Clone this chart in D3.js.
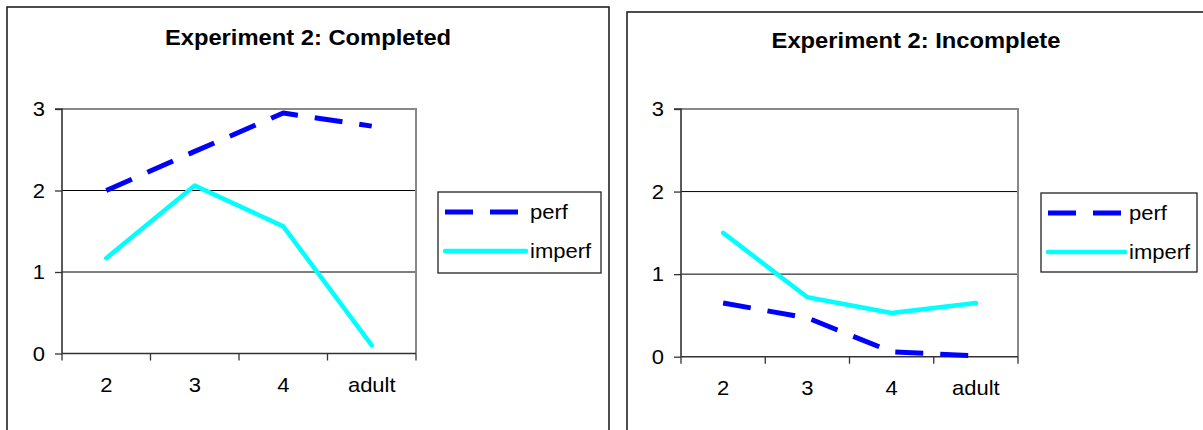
<!DOCTYPE html>
<html>
<head>
<meta charset="utf-8">
<script src="https://cdn.jsdelivr.net/npm/d3@7/dist/d3.min.js"></script>
<style>
  html, body { margin: 0; padding: 0; background: #fff; }
  svg { display: block; }
  text { font-family: "Liberation Sans", Arial, sans-serif; fill: #000; }
</style>
</head>
<body>
<svg id="chart" width="1203" height="430"></svg>
<script>
// Age groups along the x axis and the value ticks on the y axis
const ages = ["2", "3", "4", "adult"];
const yTicks = [0, 1, 2, 3];
const seriesNames = ["perf", "imperf"];
const titles = ["Experiment 2: Completed", "Experiment 2: Incomplete"];

// Mean scores per age group
const completedPerf = [2.0, 2.48, 2.95, 2.79];
const completedImperf = [1.17, 2.06, 1.56, 0.10];
const incompletePerf = [0.65, 0.47, 0.06, 0.01];
const incompleteImperf = [1.50, 0.72, 0.53, 0.65];

const seriesStyle = {
  perf:   { color: "#0000ff", width: 5,   dash: "28,17", cap: "butt" },
  imperf: { color: "#00ffff", width: 4.5, dash: null,    cap: "round" }
};

const svg = d3.select("#chart");
const TEXT_SX = 1.1; // text in these charts is set slightly wide

function label(g, x, y, str, opts = {}) {
  return g.append("text")
    .attr("transform", `translate(${x},${y}) scale(${opts.sx || TEXT_SX},1)`)
    .attr("text-anchor", opts.anchor || "middle")
    .attr("font-size", opts.size || 20)
    .attr("font-weight", opts.weight || "normal")
    .attr("dy", opts.dy || 0)
    .text(str);
}

function drawPanel(cfg) {
  const g = svg.append("g");

  // outer chart frame
  g.append("rect")
    .attr("x", cfg.frame.x).attr("y", cfg.frame.y)
    .attr("width", cfg.frame.w).attr("height", cfg.frame.h)
    .attr("fill", "#fff").attr("stroke", "#222").attr("stroke-width", 1.6);

  // title
  label(g, cfg.frame.x + cfg.frame.w / 2, cfg.titleY, cfg.title,
        { size: 22, weight: "bold", sx: 1.08 });

  const p = cfg.plot;
  const x = d3.scaleBand().domain(ages).range([p.left, p.right]);
  const y = d3.scaleLinear().domain([0, 3]).range([p.bottom, p.top]);

  // gridlines
  g.append("g").selectAll("line").data(yTicks.filter(t => t > 0 && t < 3)).join("line")
    .attr("x1", p.left).attr("x2", p.right)
    .attr("y1", d => y(d)).attr("y2", d => y(d))
    .attr("stroke", "#000").attr("stroke-width", 1);

  // plot area border (top and right)
  g.append("path")
    .attr("d", `M${p.left},${y(3)}H${p.right}V${p.bottom}`)
    .attr("fill", "none").attr("stroke", "#888").attr("stroke-width", 2);

  // y axis
  const yAxis = g.append("g").attr("transform", `translate(${p.left},0)`)
    .call(d3.axisLeft(y).tickValues(yTicks).tickSize(7).tickFormat(d3.format("d")));
  yAxis.select(".domain").attr("stroke", "#333").attr("stroke-width", 1.6)
    .attr("d", `M-7,${y(3)}H0V${p.bottom}`);
  yAxis.selectAll(".tick line").attr("stroke", "#333").attr("stroke-width", 1.3);
  yAxis.selectAll(".tick text").remove();
  yTicks.forEach(t => label(g, p.left - 17, y(t), String(t), { anchor: "end", dy: "0.36em" }));

  // x axis with ticks on category boundaries
  const xAxis = g.append("g").attr("transform", `translate(0,${p.bottom})`);
  xAxis.append("line").attr("x1", p.left).attr("x2", p.right)
    .attr("stroke", "#333").attr("stroke-width", 1.6);
  const bounds = ages.map(a => x(a)).concat([p.right]);
  xAxis.selectAll("line.tk").data(bounds).join("line").attr("class", "tk")
    .attr("x1", d => d).attr("x2", d => d).attr("y1", 0).attr("y2", 7)
    .attr("stroke", "#333").attr("stroke-width", 1.3);
  ages.forEach(a => label(g, x(a) + x.bandwidth() / 2, cfg.xLabelY, a));

  // series lines
  const line = d3.line()
    .x((d, i) => x(ages[i]) + x.bandwidth() / 2)
    .y(d => y(d));
  const series = [{ name: "perf", values: cfg.perf }, { name: "imperf", values: cfg.imperf }];
  series.forEach(s => {
    const st = seriesStyle[s.name];
    g.append("path").datum(s.values)
      .attr("d", line)
      .attr("fill", "none")
      .attr("stroke", st.color)
      .attr("stroke-width", st.width)
      .attr("stroke-linejoin", "round")
      .attr("stroke-linecap", st.cap)
      .attr("stroke-dasharray", st.dash);
  });

  // legend
  const L = cfg.legend;
  g.append("rect").attr("x", L.x).attr("y", L.y).attr("width", L.w).attr("height", L.h)
    .attr("fill", "#fff").attr("stroke", "#222").attr("stroke-width", 1.3);
  seriesNames.forEach((name, i) => {
    const st = seriesStyle[name];
    const ly = L.y + 20 + i * 39;
    g.append("line")
      .attr("x1", L.x + 7).attr("x2", L.x + L.sample)
      .attr("y1", ly).attr("y2", ly)
      .attr("stroke", st.color).attr("stroke-width", st.width)
      .attr("stroke-linecap", st.cap)
      .attr("stroke-dasharray", st.dash);
    label(g, L.x + L.sample + 4, ly, name, { anchor: "start", dy: "0.36em" });
  });
}

drawPanel({
  title: titles[0],
  frame: { x: 7, y: 7, w: 602, h: 440 },
  titleY: 45,
  plot: { left: 62, right: 416, top: 109, bottom: 353.5 },
  xLabelY: 392,
  legend: { x: 438, y: 192, w: 163, h: 81, sample: 88 },
  perf: completedPerf,
  imperf: completedImperf
});

drawPanel({
  title: titles[1],
  frame: { x: 627, y: 12, w: 578, h: 440 },
  titleY: 48,
  plot: { left: 681, right: 1018, top: 109, bottom: 356.7 },
  xLabelY: 395,
  legend: { x: 1041, y: 193, w: 156, h: 79, sample: 84 },
  perf: incompletePerf,
  imperf: incompleteImperf
});
</script>
</body>
</html>
